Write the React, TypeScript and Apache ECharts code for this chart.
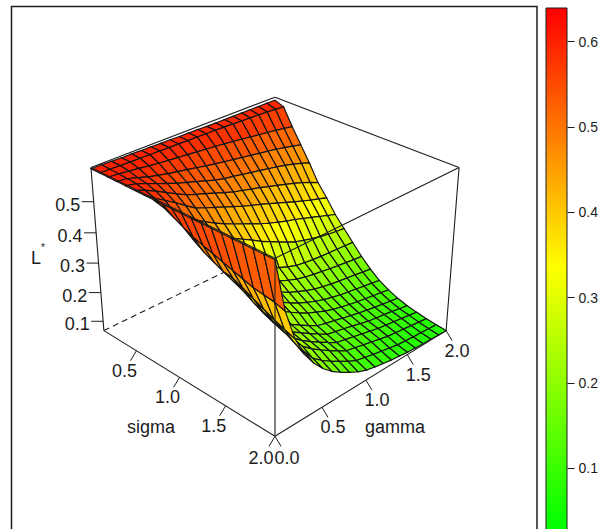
import React, { useEffect, useRef } from "react";
import * as echarts from "echarts";

const sigmaValues = [0.1,0.2,0.3,0.4,0.5,0.6,0.7,0.8,0.9,1.0,1.1,1.2,1.3,1.4,1.5,1.6,1.7,1.8,1.9,2.0];
const gammaValues = [0,0.1,0.2,0.3,0.4,0.5,0.6,0.7,0.8,0.9,1.0,1.1,1.2,1.3,1.4,1.5,1.6,1.7,1.8,1.9,2.0];
// L* by sigma (rows) and gamma (columns)
const lValues = [
[.603,.603,.602,.601,.601,.600,.600,.599,.599,.598,.598,.598,.597,.597,.597,.597,.597,.597,.597,.597,.597],
[.603,.602,.601,.600,.600,.599,.599,.598,.598,.597,.597,.596,.596,.595,.594,.593,.592,.591,.590,.588,.585],
[.603,.601,.597,.593,.589,.585,.582,.579,.576,.573,.570,.567,.564,.560,.556,.552,.548,.544,.540,.535,.530],
[.603,.599,.590,.580,.572,.565,.559,.553,.547,.541,.535,.530,.525,.520,.515,.510,.505,.500,.494,.487,.480],
[.603,.597,.585,.572,.560,.548,.538,.528,.518,.508,.500,.495,.489,.483,.477,.471,.465,.458,.450,.441,.430],
[.603,.590,.575,.558,.541,.525,.514,.503,.492,.481,.470,.462,.454,.446,.437,.428,.419,.410,.400,.388,.375],
[.603,.580,.560,.540,.518,.497,.485,.473,.461,.449,.437,.427,.417,.406,.395,.384,.373,.363,.353,.344,.335],
[.603,.565,.535,.510,.488,.468,.450,.434,.420,.407,.393,.380,.368,.358,.348,.340,.330,.320,.310,.300,.290],
[.603,.550,.515,.490,.465,.440,.420,.402,.385,.368,.350,.335,.320,.305,.292,.283,.275,.268,.262,.258,.255],
[.603,.535,.480,.445,.415,.385,.360,.337,.315,.295,.277,.262,.250,.240,.235,.231,.228,.226,.224,.222,.220],
[.603,.520,.460,.425,.390,.358,.330,.305,.285,.265,.248,.235,.224,.216,.210,.205,.200,.196,.192,.188,.185],
[.603,.510,.445,.405,.365,.330,.303,.280,.260,.242,.225,.212,.200,.190,.183,.177,.172,.168,.164,.159,.155],
[.603,.500,.430,.385,.345,.310,.283,.260,.240,.222,.205,.192,.180,.170,.162,.155,.150,.145,.140,.135,.130],
[.603,.490,.425,.370,.328,.290,.265,.243,.223,.205,.188,.175,.163,.153,.145,.138,.132,.127,.122,.117,.112],
[.603,.480,.410,.352,.303,.260,.236,.216,.197,.179,.162,.154,.147,.139,.132,.125,.119,.113,.108,.103,.098],
[.603,.470,.395,.338,.290,.250,.225,.205,.186,.168,.150,.143,.136,.129,.121,.113,.108,.104,.099,.093,.088],
[.603,.460,.380,.325,.278,.240,.215,.194,.175,.157,.140,.133,.126,.119,.112,.105,.100,.096,.091,.086,.081],
[.603,.455,.365,.312,.268,.230,.205,.184,.165,.147,.130,.123,.116,.109,.102,.095,.091,.087,.083,.079,.075],
[.603,.450,.352,.295,.250,.210,.185,.165,.147,.130,.115,.108,.101,.095,.089,.083,.080,.077,.075,.073,.071],
[.603,.440,.340,.275,.230,.195,.168,.147,.129,.113,.101,.094,.088,.083,.079,.075,.073,.071,.070,.068,.067],
];
const sigmaTicks = [0.5, 1.0, 1.5, 2.0];
const gammaTicks = [0.0, 0.5, 1.0, 1.5, 2.0];
const lTicks = [0.1, 0.2, 0.3, 0.4, 0.5];
const keyTicks = [0.1, 0.2, 0.3, 0.4, 0.5, 0.6];

const SIGMA_RANGE = [0.1, 2];
const GAMMA_RANGE = [0, 2];
const L_RANGE = [0.067, 0.607];
const KEY_RANGE = [0.03, 0.64];
const INK = "#1c1c1c";
const FONT = "18px 'Liberation Sans'";

// camera of the 3-D box
const CAM = { cx: 275, cy: 252, scale: 125.4, elev: (29.3 * Math.PI) / 180, zAspect: 0.745, dist: 10 };

function project(sigma: number, gamma: number, l: number): [number, number] {
  const v = (2 * (sigma - SIGMA_RANGE[0])) / (SIGMA_RANGE[1] - SIGMA_RANGE[0]) - 1;
  const u = (2 * (gamma - GAMMA_RANGE[0])) / (GAMMA_RANGE[1] - GAMMA_RANGE[0]) - 1;
  const w = ((2 * (l - L_RANGE[0])) / (L_RANGE[1] - L_RANGE[0]) - 1) * CAM.zAspect;
  const X = (u + v) / Math.SQRT2;
  const D = (v - u) / Math.SQRT2;
  const c = Math.cos(CAM.elev);
  const s = Math.sin(CAM.elev);
  const up = w * c - D * s;
  const depth = D * c + w * s;
  const f = CAM.dist / (CAM.dist - depth);
  return [CAM.cx + CAM.scale * X * f, CAM.cy - CAM.scale * up * f];
}

// box edges as [sigma, gamma, l, sigma, gamma, l, dashed]
const S0 = SIGMA_RANGE[0], S1 = SIGMA_RANGE[1], G0 = GAMMA_RANGE[0], G1 = GAMMA_RANGE[1], Z0 = L_RANGE[0], Z1 = L_RANGE[1];
const backEdges = [
  [S0, G0, Z0, S0, G1, Z0, 1],
  [S0, G1, Z0, S1, G1, Z0, 1],
  [S0, G1, Z0, S0, G1, Z1, 1],
  [S0, G0, Z1, S0, G1, Z1, 0],
  [S0, G1, Z1, S1, G1, Z1, 0],
  [S0, G0, Z0, S0, G0, Z1, 0],
  [S1, G1, Z0, S1, G1, Z1, 0],
];
const frontEdges = [
  [S0, G0, Z1, S1, G0, Z1, 0],
  [S1, G0, Z0, S1, G0, Z1, 0],
  [S0, G0, Z0, S1, G0, Z0, 0],
  [S1, G0, Z0, S1, G1, Z0, 0],
  [S1, G0, Z1, S1, G1, Z1, 0],
];

function edgeSeries(edges: number[][]) {
  return {
    type: "custom",
    xAxisIndex: 0,
    yAxisIndex: 0,
    silent: true,
    data: edges,
    renderItem: (_p: any, api: any) => {
      const a = project(api.value(0), api.value(1), api.value(2));
      const b = project(api.value(3), api.value(4), api.value(5));
      const p = api.coord(a);
      const q = api.coord(b);
      return {
        type: "line",
        shape: { x1: p[0], y1: p[1], x2: q[0], y2: q[1] },
        style: { stroke: INK, lineWidth: 1.1, lineDash: api.value(6) ? [6, 4] : null },
      };
    },
  };
}

const cells: number[][] = [];
for (let i = 0; i < sigmaValues.length - 1; i++) {
  for (let j = gammaValues.length - 2; j >= 0; j--) {
    const mean = (lValues[i][j] + lValues[i][j + 1] + lValues[i + 1][j] + lValues[i + 1][j + 1]) / 4;
    cells.push([i, j, mean]);
  }
}

type Tick = { s: number; g: number; l: number; tx: number; ty: number; lx: number; ly: number; text: string };
const axisTicks: Tick[] = [
  ...lTicks.map((t) => ({ s: S0, g: G0, l: t, tx: -12, ty: 0, lx: -26, ly: 3, text: t.toFixed(1) })),
  ...sigmaTicks.map((t) => ({ s: t, g: G0, l: Z0, tx: -6, ty: 10, lx: t === 2 ? -14 : -12, ly: t === 2 ? 22 : 20, text: t.toFixed(1) })),
  ...gammaTicks.map((t) => ({ s: S1, g: t, l: Z0, tx: 6, ty: 10, lx: t === 0 ? 12 : 11, ly: t === 0 ? 22 : 20, text: t.toFixed(1) })),
];

const option: any = {
  animation: false,
  backgroundColor: "#ffffff",
  tooltip: { show: false },
  grid: [
    { left: 0, top: 0, width: 611, height: 529, containLabel: false, outerBoundsMode: "none" },
    { left: 545.5, top: 7.5, width: 22, height: 546, containLabel: false, outerBoundsMode: "none" },
  ],
  xAxis: [
    { type: "value", gridIndex: 0, min: 0, max: 611, show: false },
    { type: "category", gridIndex: 1, data: ["key"], show: false },
  ],
  yAxis: [
    { type: "value", gridIndex: 0, min: 0, max: 529, inverse: true, show: false },
    {
      type: "value",
      gridIndex: 1,
      position: "right",
      min: 0,
      max: KEY_RANGE[1],
      axisLine: { show: false },
      splitLine: { show: false },
      axisTick: { show: true, length: 7, lineStyle: { color: INK, width: 1 }, customValues: keyTicks },
      axisLabel: {
        show: true,
        color: INK,
        fontFamily: "Liberation Sans",
        fontSize: 14,
        margin: 11,
        customValues: keyTicks,
        formatter: (v: number) => v.toFixed(1),
      },
    },
  ],
  visualMap: {
    show: false,
    type: "continuous",
    seriesIndex: 1,
    dimension: 2,
    min: KEY_RANGE[0],
    max: KEY_RANGE[1],
    inRange: { color: ["#00ff00", "#ffff00", "#ff0000"] },
  },
  series: [
    edgeSeries(backEdges),
    {
      type: "custom",
      xAxisIndex: 0,
      yAxisIndex: 0,
      silent: true,
      data: cells,
      renderItem: (_p: any, api: any) => {
        const i = api.value(0);
        const j = api.value(1);
        const corners = [
          [i, j],
          [i, j + 1],
          [i + 1, j + 1],
          [i + 1, j],
        ].map(([a, b]) => api.coord(project(sigmaValues[a], gammaValues[b], lValues[a][b])));
        return {
          type: "polygon",
          shape: { points: corners },
          style: { fill: api.visual("color"), stroke: "#141414", lineWidth: 1.2 },
        };
      },
    },
    edgeSeries(frontEdges),
    {
      type: "custom",
      xAxisIndex: 0,
      yAxisIndex: 0,
      silent: true,
      data: axisTicks.map((_, k) => [k]),
      renderItem: (_p: any, api: any) => {
        const t = axisTicks[api.value(0)];
        const p = api.coord(project(t.s, t.g, t.l));
        return {
          type: "group",
          children: [
            {
              type: "line",
              shape: { x1: p[0], y1: p[1], x2: p[0] + t.tx, y2: p[1] + t.ty },
              style: { stroke: INK, lineWidth: 1 },
            },
            {
              type: "text",
              style: {
                x: p[0] + t.lx,
                y: p[1] + t.ly,
                text: t.text,
                fill: INK,
                font: FONT,
                align: "center",
                verticalAlign: "middle",
              },
            },
          ],
        };
      },
    },
    {
      type: "bar",
      xAxisIndex: 1,
      yAxisIndex: 1,
      silent: true,
      barWidth: "100%",
      data: [KEY_RANGE[1]],
      itemStyle: {
        borderColor: INK,
        borderWidth: 1,
        color: new echarts.graphic.LinearGradient(0, 0, 0, 1, [
          { offset: 0, color: "#ff0000" },
          { offset: (KEY_RANGE[1] - 0.335) / KEY_RANGE[1], color: "#ffff00" },
          { offset: (KEY_RANGE[1] - KEY_RANGE[0]) / KEY_RANGE[1], color: "#00ff00" },
          { offset: 1, color: "#00ff00" },
        ]),
      },
    },
  ],
  graphic: [
    {
      type: "rect",
      silent: true,
      z: -1,
      shape: { x: 11.5, y: 6.5, width: 525.5, height: 540 },
      style: { fill: "none", stroke: INK, lineWidth: 1.5 },
    },
    { type: "text", silent: true, x: 36, y: 258, style: { text: "L", fill: INK, font: FONT, align: "center", verticalAlign: "middle" } },
    { type: "text", silent: true, x: 43, y: 247, style: { text: "*", fill: INK, font: "10px 'Liberation Sans'", align: "center", verticalAlign: "middle" } },
    { type: "text", silent: true, x: 151, y: 427, style: { text: "sigma", fill: INK, font: FONT, align: "center", verticalAlign: "middle" } },
    { type: "text", silent: true, x: 395, y: 427, style: { text: "gamma", fill: INK, font: FONT, align: "center", verticalAlign: "middle" } },
  ],
};

export default function App() {
  const ref = useRef<HTMLDivElement>(null);
  useEffect(() => {
    const chart = echarts.init(ref.current!, undefined, { renderer: "svg" });
    chart.setOption(option);
    return () => chart.dispose();
  }, []);
  return <div ref={ref} style={{ position: "absolute", left: 0, top: 0, width: 611, height: 529, overflow: "hidden" }} />;
}
